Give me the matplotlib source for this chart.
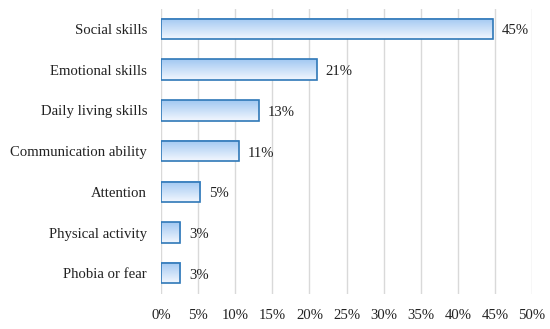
import matplotlib
matplotlib.use("Agg")
import matplotlib.pyplot as plt
import numpy as np
from matplotlib.colors import LinearSegmentedColormap

categories = ["Social skills", "Emotional skills", "Daily living skills",
              "Communication ability", "Attention", "Physical activity", "Phobia or fear"]
values = [44.7, 21.0, 13.2, 10.5, 5.3, 2.6, 2.6]
value_labels = ["45%", "21%", "13%", "11%", "5%", "3%", "3%"]
xticks = [0, 5, 10, 15, 20, 25, 30, 35, 40, 45, 50]
xtick_labels = [f"{t}%" for t in xticks]

plt.rcParams['font.family'] = ['Liberation Serif', 'DejaVu Serif']

fig = plt.figure(figsize=(5.5, 3.29), dpi=100)
ax = fig.add_axes([0.2927, 0.1076, 0.6746, 0.8664])

n = len(categories)
ypos = np.arange(n)
h = 0.5
cmap = LinearSegmentedColormap.from_list("g", ["#f2f7fe", "#a2c8f2"])
grad = np.linspace(0, 1, 64).reshape(-1, 1)
fs = 10.6

ax.set_xlim(0, 50)
ax.set_ylim(n - 0.5, -0.5)

for y, v, lab in zip(ypos, values, value_labels):
    ax.imshow(grad, cmap=cmap, aspect='auto', extent=(0, v, y - h / 2, y + h / 2),
              origin='upper', zorder=2, interpolation='bilinear')
    ax.barh(y, v, height=h, facecolor='none', edgecolor='#2f78b8', linewidth=1.2, zorder=3)
    ax.text(v + 1.2, y + 0.05, lab, va='center', ha='left', fontsize=fs, color='#222222')

ax.set_xlim(0, 50)
ax.set_ylim(n - 0.5, -0.5)
ax.set_yticks(ypos)
ax.set_yticklabels(categories, fontsize=fs, color='#222222')
ax.set_xticks(xticks)
ax.set_xticklabels(xtick_labels, fontsize=fs, color='#222222')
ax.tick_params(axis='both', length=0)
ax.tick_params(axis='x', pad=11)
ax.tick_params(axis='y', pad=10)
ax.grid(axis='x', color='#d9d9d9', linewidth=1, zorder=0)
ax.set_axisbelow(True)
for s in ax.spines.values():
    s.set_visible(False)

fig.savefig("out.png", dpi=100)
